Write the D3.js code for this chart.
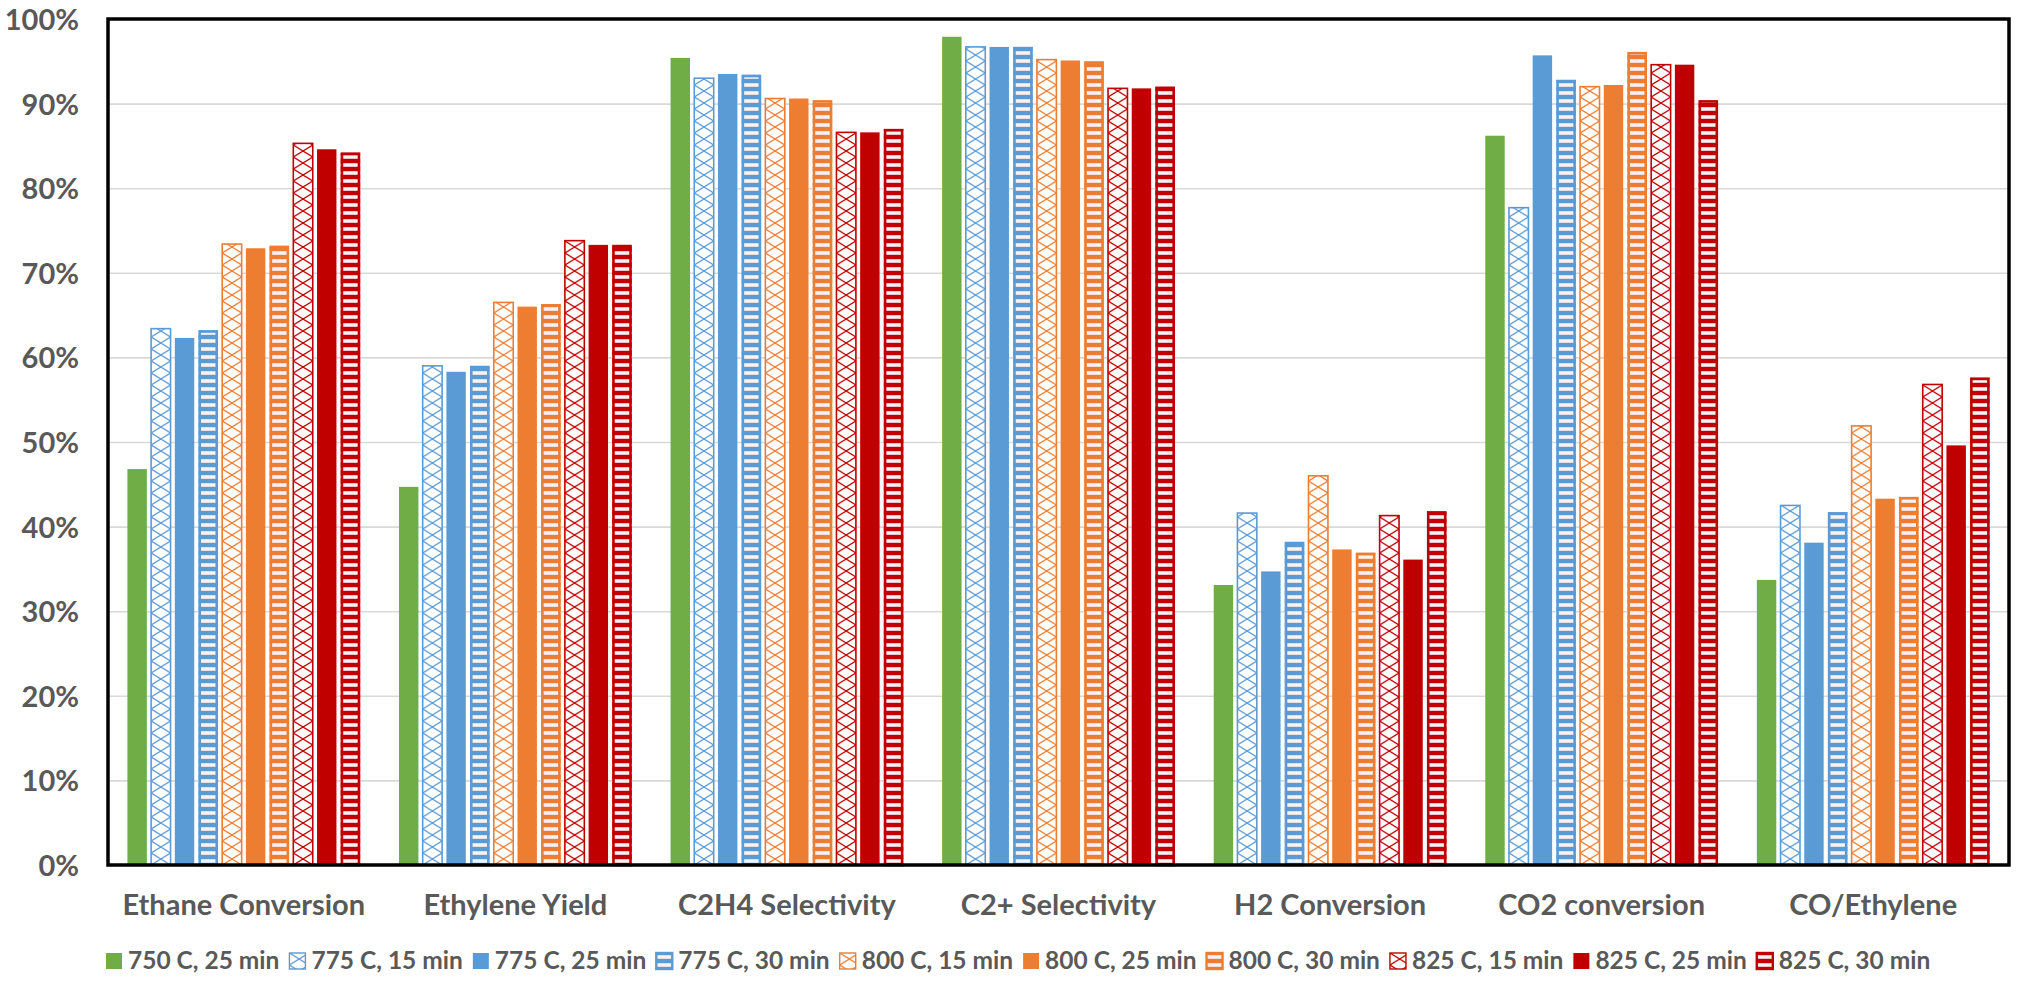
<!DOCTYPE html>
<html>
<head>
<meta charset="utf-8">
<script src="https://cdn.jsdelivr.net/npm/d3@7"></script>
<style>
  body { margin: 0; background: #ffffff; }
  svg text { font-family: Lato, "Open Sans", sans-serif; font-weight: 700; fill: #595959; }
</style>
</head>
<body>
<svg id="chart" width="2017" height="981"></svg>
<script>
// ---- data ----
const categories = ["Ethane Conversion", "Ethylene Yield", "C2H4 Selectivity", "C2+ Selectivity",
                    "H2 Conversion", "CO2 conversion", "CO/Ethylene"];

const seriesNames = ["750 C, 25 min", "775 C, 15 min", "775 C, 25 min", "775 C, 30 min",
                     "800 C, 15 min", "800 C, 25 min", "800 C, 30 min",
                     "825 C, 15 min", "825 C, 25 min", "825 C, 30 min"];

// values in percent, one array per run condition, in category order
const run750_25 = [46.8, 44.7, 95.4, 97.9, 33.1, 86.2, 33.7];
const run775_15 = [63.4, 59.0, 93.0, 96.7, 41.6, 77.7, 42.5];
const run775_25 = [62.3, 58.3, 93.5, 96.7, 34.7, 95.7, 38.1];
const run775_30 = [63.2, 59.0, 93.4, 96.7, 38.2, 92.8, 41.7];
const run800_15 = [73.4, 66.5, 90.6, 95.2, 46.0, 92.0, 51.9];
const run800_25 = [72.9, 66.0, 90.6, 95.1, 37.3, 92.2, 43.3];
const run800_30 = [73.2, 66.3, 90.4, 95.0, 36.9, 96.1, 43.5];
const run825_15 = [85.3, 73.8, 86.6, 91.8, 41.3, 94.6, 56.8];
const run825_25 = [84.6, 73.3, 86.6, 91.8, 36.1, 94.6, 49.6];
const run825_30 = [84.2, 73.3, 87.0, 92.0, 41.8, 90.4, 57.6];

const yTicks = [0, 10, 20, 30, 40, 50, 60, 70, 80, 90, 100];

// ---- styling ----
const seriesValues = [run750_25, run775_15, run775_25, run775_30, run800_15,
                      run800_25, run800_30, run825_15, run825_25, run825_30];
const seriesColors = ["#70AD47", "#5B9BD5", "#5B9BD5", "#5B9BD5", "#ED7D31",
                      "#ED7D31", "#ED7D31", "#C00000", "#C00000", "#C00000"];
const seriesFills  = ["solid", "cross", "solid", "stripes", "cross",
                      "solid", "stripes", "cross", "solid", "stripes"];

const W = 2017, H = 981;
const plot = { left: 108, right: 2009, top: 19, bottom: 865 };

const svg = d3.select("#chart");
const defs = svg.append("defs");

const x0 = d3.scaleBand()
  .domain(categories)
  .range([plot.left, plot.right])
  .paddingInner(0.143)
  .paddingOuter(0.0715);

const x1 = d3.scaleBand()
  .domain(d3.range(seriesNames.length))
  .range([0, x0.bandwidth()])
  .paddingInner(0.18)
  .paddingOuter(0);

const y = d3.scaleLinear().domain([0, 100]).range([plot.bottom, plot.top]);

// hatch patterns (user space of the referencing element, so each bar starts its own grid)
const uniqColors = Array.from(new Set(seriesColors));
const crossW = x1.bandwidth();
const crossH = 12;
uniqColors.forEach(c => {
  const id = c.slice(1);
  const pc = defs.append("pattern")
    .attr("id", "cross-" + id)
    .attr("patternUnits", "userSpaceOnUse")
    .attr("width", crossW).attr("height", crossH);
  pc.append("rect").attr("width", crossW).attr("height", crossH).attr("fill", "#ffffff");
  pc.append("path")
    .attr("d", `M0,0L${crossW},${crossH}M${crossW},0L0,${crossH}`)
    .attr("stroke", c).attr("stroke-width", 1.3).attr("fill", "none");

  const ps = defs.append("pattern")
    .attr("id", "stripes-" + id)
    .attr("patternUnits", "userSpaceOnUse")
    .attr("width", 40).attr("height", 8);
  ps.append("rect").attr("width", 40).attr("height", 8).attr("fill", c);
  ps.append("rect").attr("y", 2.2).attr("width", 40).attr("height", 3.6).attr("fill", "#f7f3f3");
});

function fillFor(i) {
  const kind = seriesFills[i];
  const c = seriesColors[i];
  if (kind === "solid") return c;
  return `url(#${kind}-${c.slice(1)})`;
}

// ---- gridlines ----
svg.append("g")
  .attr("transform", `translate(${plot.left},0)`)
  .call(d3.axisLeft(y).tickValues(yTicks.slice(1, -1)).tickSize(-(plot.right - plot.left)).tickFormat(""))
  .call(g => g.select(".domain").remove())
  .call(g => g.selectAll("line").attr("stroke", "#d9d9d9").attr("stroke-width", 1.6));

// ---- bars ----
const groups = svg.append("g").selectAll("g.cat")
  .data(categories)
  .join("g")
  .attr("class", "cat")
  .attr("transform", d => `translate(${x0(d)},0)`);

groups.selectAll("g.bar")
  .data((cat, ci) => seriesValues.map((vals, si) => ({ si, v: vals[ci] })))
  .join("g")
  .attr("class", "bar")
  .attr("transform", d => `translate(${x1(d.si)},${y(0)})`)
  .each(function (d) {
    const g = d3.select(this);
    const h = y(0) - y(d.v);
    const kind = seriesFills[d.si];
    const bw = x1.bandwidth();
    const r = g.append("rect")
      .attr("x", 0).attr("y", -h)
      .attr("width", bw).attr("height", h)
      .attr("fill", fillFor(d.si));
    if (kind === "cross") {
      r.attr("stroke", seriesColors[d.si]).attr("stroke-width", 1.6);
    } else if (kind === "stripes") {
      g.append("rect")
        .attr("x", 1.2).attr("y", -h + 1.2)
        .attr("width", bw - 2.4).attr("height", Math.max(0, h - 1.2))
        .attr("fill", "none")
        .attr("stroke", seriesColors[d.si]).attr("stroke-width", 2.6);
    }
  });

// ---- plot frame ----
svg.append("rect")
  .attr("x", plot.left).attr("y", plot.top)
  .attr("width", plot.right - plot.left).attr("height", plot.bottom - plot.top)
  .attr("fill", "none").attr("stroke", "#000000").attr("stroke-width", 3.5);

// ---- y axis labels ----
svg.append("g")
  .attr("transform", `translate(${plot.left},0)`)
  .call(d3.axisLeft(y).tickValues(yTicks).tickFormat(d => d + "%").tickSize(0).tickPadding(29))
  .call(g => g.select(".domain").remove())
  .call(g => g.selectAll("text")
    .style("font-size", "29px")
    .attr("dy", "0.36em"));

// ---- x axis labels ----
svg.append("g")
  .attr("transform", `translate(0,${plot.bottom})`)
  .call(d3.axisBottom(x0).tickSize(0))
  .call(g => g.select(".domain").remove())
  .call(g => g.selectAll("text")
    .style("font-size", "29px")
    .attr("y", 50).attr("dy", 0));

// ---- legend ----
const legend = svg.append("g").attr("transform", "translate(106,953)");
let lx = 0;
seriesNames.forEach((name, i) => {
  const item = legend.append("g").attr("transform", `translate(${lx},0)`);
  const sw = item.append("g");
  const kind = seriesFills[i];
  sw.append("rect").attr("width", 16).attr("height", 16).attr("fill", fillFor(i))
    .attr("stroke", kind === "solid" ? "none" : seriesColors[i])
    .attr("stroke-width", kind === "stripes" ? 2.4 : 1.4);
  const t = item.append("text")
    .attr("x", 22).attr("y", 16)
    .style("font-size", "24.5px")
    .text(name);
  lx += 22 + t.node().getComputedTextLength() + 10;
});
</script>
</body>
</html>
